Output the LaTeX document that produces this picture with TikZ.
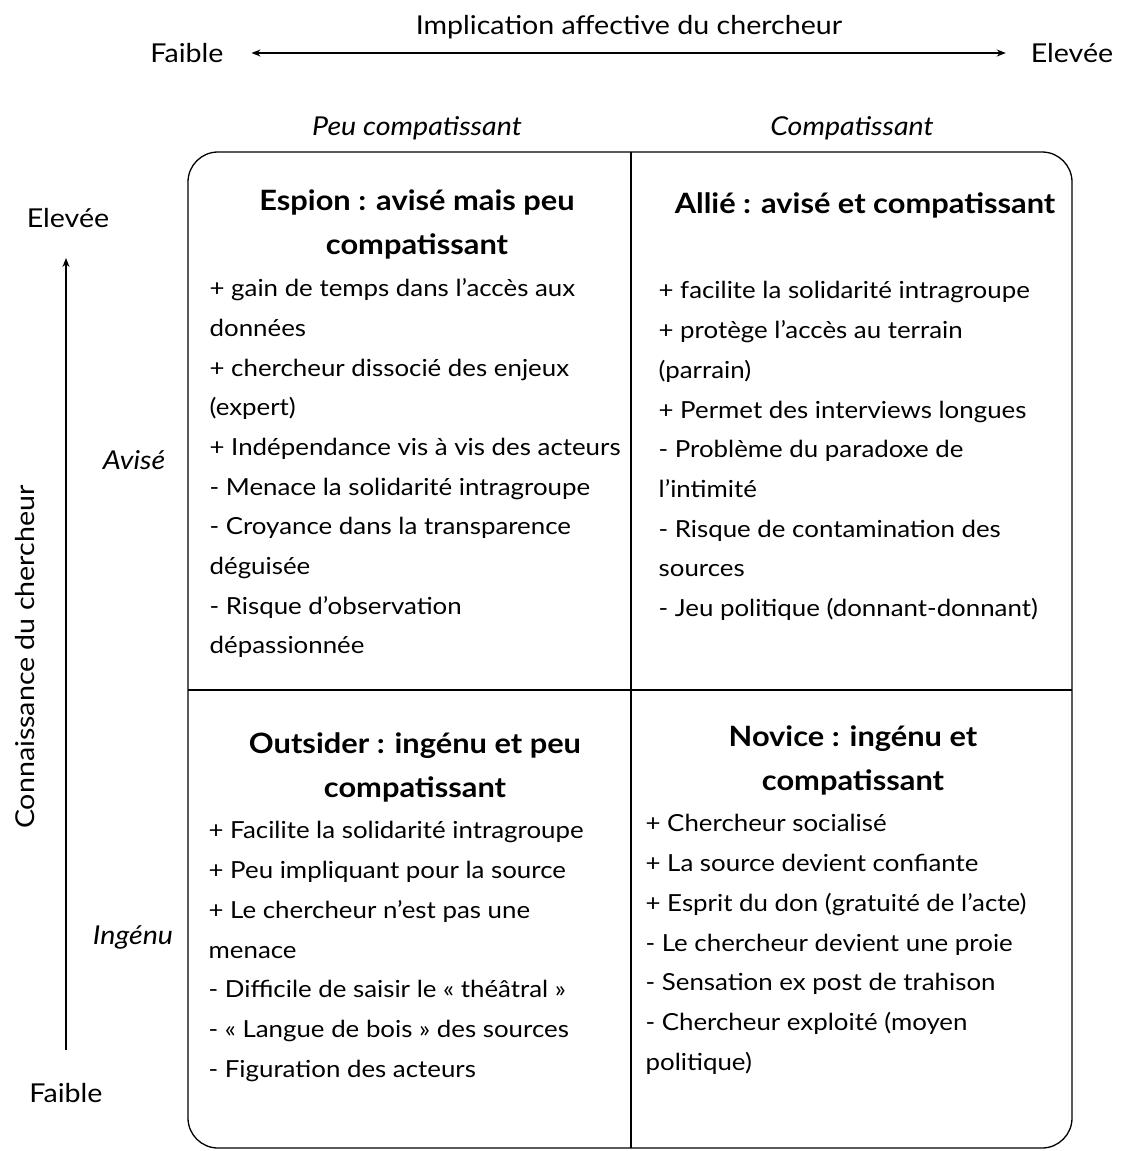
\documentclass[tikz,border=0pt]{standalone}
\usepackage{fontspec}
\setmainfont{Lato}[FakeStretch=1.1]
\usetikzlibrary{arrows.meta}
\begin{document}
\begin{tikzpicture}[x=1pt, y=-1pt, line width=1.3pt,
  lbl/.style={font=\fontsize{26}{30}\selectfont},
  axis/.style={font=\itshape\fontsize{26}{30}\selectfont},
  title/.style={font=\bfseries\fontsize{28}{44}\selectfont, align=center},
  body/.style={font=\fontsize{23.5}{39.7}\selectfont, align=left, anchor=north west, inner sep=0pt},
  tip/.style={-{Stealth[length=9pt,width=7pt]}}]
	\useasboundingbox (0,0) rectangle (1121,1151);
	\node[lbl] (impl) at (629,27) {Implication affective du chercheur};
	\node[lbl] (hlow) at (187,53) {Faible};
	\node[lbl] (hhigh) at (1072,53) {Elevée};
	\draw[{Stealth[length=9pt,width=7pt]}-{Stealth[length=9pt,width=7pt]}, shorten <=24pt, shorten >=21pt] (hlow.east) -- (hhigh.west);
	\node[axis] (peu) at (417,128) {Peu compatissant};
	\node[axis] (comp) at (852,128) {Compatissant};
	\node[lbl] (vhigh) at (68,218) {Elevée};
	\node[lbl] (vlow) at (66,1093) {Faible};
	\draw[tip, shorten <=43pt, shorten >=40pt] (vlow.center) -- (vlow.center |- vhigh.center);
	\node[lbl, rotate=90] (know) at (25,657) {Connaissance du chercheur};
	\node[axis] (avise) at (134,460) {Avisé};
	\node[axis] (ingenu) at (133,937) {Ingénu};
	\draw[rounded corners=30pt] (188,152) rectangle (1072,1148);
	\draw (631,152) -- (631,1148);
	\draw (188,690) -- (1072,690);
	\node[title] (spy) at (417,224) {Espion : avisé mais peu\\compatissant};
	\node[title] (ally) at (865,205) {Allié : avisé et compatissant};
	\node[title] (outs) at (415,767) {Outsider : ingénu et peu\\compatissant};
	\node[title] (nov) at (853,760) {Novice : ingénu et\\compatissant};
	\node[body] (spytxt) at (209,278) {+ gain de temps dans l’accès aux\\données\\+ chercheur dissocié des enjeux\\(expert)\\+ Indépendance vis à vis des acteurs\\- Menace la solidarité intragroupe\\- Croyance dans la transparence\\déguisée\\- Risque d’observation\\dépassionnée};
	\node[body] (allytxt) at (658,281) {+ facilite la solidarité intragroupe\\+ protège l’accès au terrain\\(parrain)\\+ Permet des interviews longues\\- Problème du paradoxe de\\l’intimité\\- Risque de contamination des\\sources\\- Jeu politique (donnant-donnant)};
	\node[body] (outstxt) at (208,821) {+ Facilite la solidarité intragroupe\\+ Peu impliquant pour la source\\+ Le chercheur n’est pas une\\menace\\- Difficile de saisir le «~théâtral~»\\- «~Langue de bois~» des sources\\- Figuration des acteurs};
	\node[body] (novtxt) at (645,814) {+ Chercheur socialisé\\+ La source devient confiante\\+ Esprit du don (gratuité de l’acte)\\- Le chercheur devient une proie\\- Sensation ex post de trahison\\- Chercheur exploité (moyen\\politique)};
\end{tikzpicture}
\end{document}
